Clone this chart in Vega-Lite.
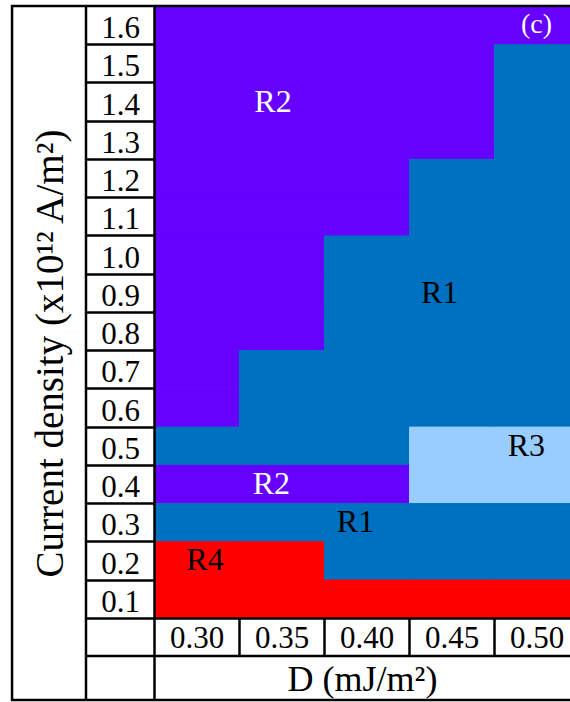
{
  "$schema": "https://vega.github.io/schema/vega-lite/v6.json",
  "width": 416,
  "height": 694,
  "autosize": {"type": "none"},
  "padding": {"left": 154, "top": 6, "right": 0, "bottom": 2},
  "background": "white",
  "config": {"view": {"stroke": null}, "font": "Liberation Serif", "text": {"font": "Liberation Serif"}},
  "datasets": {
    "cells": [
      {"D": 0.30, "J": 1.6, "region": "R2"}, {"D": 0.35, "J": 1.6, "region": "R2"}, {"D": 0.40, "J": 1.6, "region": "R2"}, {"D": 0.45, "J": 1.6, "region": "R2"}, {"D": 0.50, "J": 1.6, "region": "R2"},
      {"D": 0.30, "J": 1.5, "region": "R2"}, {"D": 0.35, "J": 1.5, "region": "R2"}, {"D": 0.40, "J": 1.5, "region": "R2"}, {"D": 0.45, "J": 1.5, "region": "R2"}, {"D": 0.50, "J": 1.5, "region": "R1"},
      {"D": 0.30, "J": 1.4, "region": "R2"}, {"D": 0.35, "J": 1.4, "region": "R2"}, {"D": 0.40, "J": 1.4, "region": "R2"}, {"D": 0.45, "J": 1.4, "region": "R2"}, {"D": 0.50, "J": 1.4, "region": "R1"},
      {"D": 0.30, "J": 1.3, "region": "R2"}, {"D": 0.35, "J": 1.3, "region": "R2"}, {"D": 0.40, "J": 1.3, "region": "R2"}, {"D": 0.45, "J": 1.3, "region": "R2"}, {"D": 0.50, "J": 1.3, "region": "R1"},
      {"D": 0.30, "J": 1.2, "region": "R2"}, {"D": 0.35, "J": 1.2, "region": "R2"}, {"D": 0.40, "J": 1.2, "region": "R2"}, {"D": 0.45, "J": 1.2, "region": "R1"}, {"D": 0.50, "J": 1.2, "region": "R1"},
      {"D": 0.30, "J": 1.1, "region": "R2"}, {"D": 0.35, "J": 1.1, "region": "R2"}, {"D": 0.40, "J": 1.1, "region": "R2"}, {"D": 0.45, "J": 1.1, "region": "R1"}, {"D": 0.50, "J": 1.1, "region": "R1"},
      {"D": 0.30, "J": 1.0, "region": "R2"}, {"D": 0.35, "J": 1.0, "region": "R2"}, {"D": 0.40, "J": 1.0, "region": "R1"}, {"D": 0.45, "J": 1.0, "region": "R1"}, {"D": 0.50, "J": 1.0, "region": "R1"},
      {"D": 0.30, "J": 0.9, "region": "R2"}, {"D": 0.35, "J": 0.9, "region": "R2"}, {"D": 0.40, "J": 0.9, "region": "R1"}, {"D": 0.45, "J": 0.9, "region": "R1"}, {"D": 0.50, "J": 0.9, "region": "R1"},
      {"D": 0.30, "J": 0.8, "region": "R2"}, {"D": 0.35, "J": 0.8, "region": "R2"}, {"D": 0.40, "J": 0.8, "region": "R1"}, {"D": 0.45, "J": 0.8, "region": "R1"}, {"D": 0.50, "J": 0.8, "region": "R1"},
      {"D": 0.30, "J": 0.7, "region": "R2"}, {"D": 0.35, "J": 0.7, "region": "R1"}, {"D": 0.40, "J": 0.7, "region": "R1"}, {"D": 0.45, "J": 0.7, "region": "R1"}, {"D": 0.50, "J": 0.7, "region": "R1"},
      {"D": 0.30, "J": 0.6, "region": "R2"}, {"D": 0.35, "J": 0.6, "region": "R1"}, {"D": 0.40, "J": 0.6, "region": "R1"}, {"D": 0.45, "J": 0.6, "region": "R1"}, {"D": 0.50, "J": 0.6, "region": "R1"},
      {"D": 0.30, "J": 0.5, "region": "R1"}, {"D": 0.35, "J": 0.5, "region": "R1"}, {"D": 0.40, "J": 0.5, "region": "R1"}, {"D": 0.45, "J": 0.5, "region": "R3"}, {"D": 0.50, "J": 0.5, "region": "R3"},
      {"D": 0.30, "J": 0.4, "region": "R2"}, {"D": 0.35, "J": 0.4, "region": "R2"}, {"D": 0.40, "J": 0.4, "region": "R2"}, {"D": 0.45, "J": 0.4, "region": "R3"}, {"D": 0.50, "J": 0.4, "region": "R3"},
      {"D": 0.30, "J": 0.3, "region": "R1"}, {"D": 0.35, "J": 0.3, "region": "R1"}, {"D": 0.40, "J": 0.3, "region": "R1"}, {"D": 0.45, "J": 0.3, "region": "R1"}, {"D": 0.50, "J": 0.3, "region": "R1"},
      {"D": 0.30, "J": 0.2, "region": "R4"}, {"D": 0.35, "J": 0.2, "region": "R4"}, {"D": 0.40, "J": 0.2, "region": "R1"}, {"D": 0.45, "J": 0.2, "region": "R1"}, {"D": 0.50, "J": 0.2, "region": "R1"},
      {"D": 0.30, "J": 0.1, "region": "R4"}, {"D": 0.35, "J": 0.1, "region": "R4"}, {"D": 0.40, "J": 0.1, "region": "R4"}, {"D": 0.45, "J": 0.1, "region": "R4"}, {"D": 0.50, "J": 0.1, "region": "R4"}
    ],
    "labels": [
      {"D": 0.345, "J": 1.4, "label": "R2"},
      {"D": 0.443, "J": 0.9, "label": "R1"},
      {"D": 0.494, "J": 0.5, "label": "R3"},
      {"D": 0.344, "J": 0.4, "label": "R2"},
      {"D": 0.3935, "J": 0.3, "label": "R1"},
      {"D": 0.305, "J": 0.2, "label": "R4"}
    ],
    "one": [{}]
  },
  "layer": [
    {
      "data": {"name": "cells"},
      "mark": {"type": "rect", "strokeWidth": 1},
      "encoding": {
        "x": {
          "field": "D", "type": "quantitative",
          "bin": {"step": 0.05, "extent": [0.275, 0.525], "nice": false},
          "scale": {"domain": [0.275, 0.5197], "nice": false, "zero": false},
          "axis": {
            "orient": "bottom", "offset": -82,
            "values": [0.30, 0.35, 0.40, 0.45, 0.50], "format": ".2f",
            "title": "D (mJ/m²)",
            "grid": false,
            "domain": true, "domainColor": "#000", "domainWidth": 2.5,
            "ticks": true, "tickColor": "#000", "tickWidth": 2.5, "tickSize": 38,
            "tickOffset": 42.5, "labelOffset": -42.5,
            "labelFont": "Liberation Serif", "labelFontSize": 31, "labelColor": "#000",
            "labelAlign": "center", "labelBaseline": "alphabetic", "labelPadding": -9,
            "labelFlush": false, "labelOverlap": false, "labelBound": false,
            "titleFont": "Liberation Serif", "titleFontSize": 36, "titleFontWeight": "normal",
            "titleColor": "#000", "titlePadding": 5,
            "zindex": 1
          }
        },
        "y": {
          "field": "J", "type": "quantitative",
          "bin": {"step": 0.1, "extent": [0.05, 1.65], "nice": false},
          "scale": {"domain": [-0.165, 1.65], "nice": false, "zero": false},
          "axis": {
            "orient": "left",
            "values": [0.1, 0.2, 0.3, 0.4, 0.5, 0.6, 0.7, 0.8, 0.9, 1.0, 1.1, 1.2, 1.3, 1.4, 1.5, 1.6],
            "format": ".1f",
            "title": "Current density (x10¹² A/m²)",
            "grid": false,
            "domain": true, "domainColor": "#000", "domainWidth": 2.5,
            "ticks": true, "tickColor": "#000", "tickWidth": 2.5, "tickSize": 68,
            "tickOffset": 19.12, "labelOffset": -6.5,
            "labelFont": "Liberation Serif", "labelFontSize": 31, "labelColor": "#000",
            "labelAlign": "center", "labelBaseline": "alphabetic", "labelPadding": -34,
            "labelFlush": false, "labelOverlap": false, "labelBound": false,
            "titleFont": "Liberation Serif", "titleFontSize": 39, "titleFontWeight": "normal",
            "titleColor": "#000", "titlePadding": 14,
            "zindex": 1
          }
        },
        "color": {
          "field": "region", "type": "nominal",
          "scale": {"domain": ["R1", "R2", "R3", "R4"], "range": ["#0070C0", "#6600FF", "#99CCFF", "#FF0000"]},
          "legend": null
        },
        "stroke": {
          "field": "region", "type": "nominal",
          "scale": {"domain": ["R1", "R2", "R3", "R4"], "range": ["#0070C0", "#6600FF", "#99CCFF", "#FF0000"]},
          "legend": null
        }
      }
    },
    {
      "data": {"name": "labels"},
      "mark": {"type": "text", "font": "Liberation Serif", "fontSize": 32, "baseline": "middle", "align": "center"},
      "encoding": {
        "x": {"field": "D", "type": "quantitative"},
        "y": {"field": "J", "type": "quantitative"},
        "text": {"field": "label"},
        "color": {"condition": {"test": "datum.label === 'R2'", "value": "#ffffff"}, "value": "#000000"}
      }
    },
    {
      "data": {"name": "one"},
      "mark": {"type": "text", "font": "Liberation Serif", "fontSize": 28, "baseline": "middle", "align": "center", "fill": "#ffffff"},
      "encoding": {
        "x": {"datum": 0.50},
        "y": {"datum": 1.6},
        "text": {"value": "(c)"}
      }
    },
    {
      "data": {"name": "one"},
      "mark": {"type": "rect", "filled": false, "stroke": "#000000", "strokeWidth": 2.5},
      "encoding": {
        "x": {"datum": 0.1915},
        "x2": {"datum": 0.525},
        "y": {"datum": -0.165},
        "y2": {"datum": 1.65}
      }
    },
    {
      "data": {"name": "one"},
      "mark": {"type": "rule", "stroke": "#000000", "strokeWidth": 2.5},
      "encoding": {
        "x": {"datum": 0.235},
        "y": {"datum": -0.165},
        "y2": {"datum": 1.65}
      }
    },
    {
      "data": {"name": "one"},
      "mark": {"type": "rule", "stroke": "#000000", "strokeWidth": 2.5},
      "encoding": {
        "x": {"datum": 0.235},
        "x2": {"datum": 0.525},
        "y": {"datum": -0.05}
      }
    }
  ]
}
